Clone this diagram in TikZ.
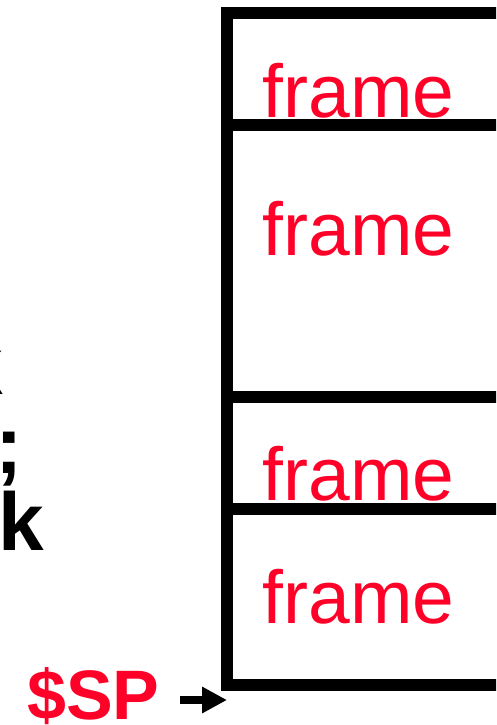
\documentclass[tikz,border=0pt]{standalone}
\usepackage{fontspec}
\setmainfont{Liberation Sans}
\usetikzlibrary{arrows.meta}
\definecolor{FRred}{RGB}{255,0,40}

\begin{document}
\begin{tikzpicture}[x=1pt, y=-1pt,
    framelabel/.style={FRred, inner sep=0pt, anchor=base west, font=\fontsize{75}{80}\selectfont},
    cuttext/.style={inner sep=0pt, anchor=base west, font=\fontsize{82}{90}\selectfont\bfseries},
    stackline/.style={line width=12pt},
    sparrow/.style={line width=8pt, -{Triangle[length=25pt, width=25pt]}}]
  \useasboundingbox (0,0) rectangle (496,725);
  \clip (0,0) rectangle (496,725);
  % stack outline and frame borders
  \draw[stackline] (499,13) -- (227,13) -- (227,685) -- (499,685);
  \foreach \y in {125,397,509}
    \draw[stackline] (227,\y) -- (499,\y);
  \coordinate (tip) at (227,700);
  % frame labels
  \node[framelabel] (frameA) at (262.5,117) {frame};
  \node[framelabel] (frameB) at (262.5,255) {frame};
  \node[framelabel] (frameC) at (262.5,500) {frame};
  \node[framelabel] (frameD) at (262.5,623) {frame};
  % text cut off at the left edge
  \node[cuttext] (cutA) at (-43,394) {k};
  \node[cuttext] (cutB) at (-5,473) {;};
  \node[cuttext] (cutC) at (-2,550) {k};
  % stack pointer
  \node[FRred, inner sep=0pt, anchor=base west, font=\fontsize{70}{76}\selectfont\bfseries] (sp) at (27,719) {\$SP};
  \draw[sparrow] (sp.east |- tip) ++(20,0) -- (tip);
\end{tikzpicture}
\end{document}
